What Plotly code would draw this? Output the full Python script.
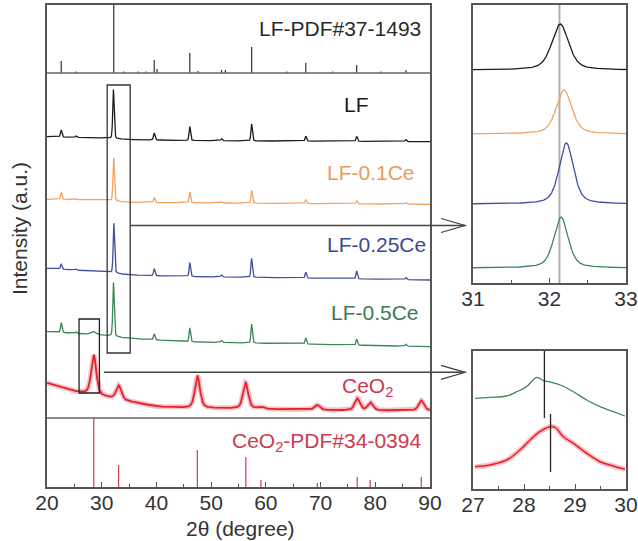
import numpy as np
import plotly.graph_objects as go

W, H = 638, 541

# ---------------- data ----------------
# LF reference pattern PDF#37-1493 : 2theta and stick height
lf_pdf_pos = [22.6, 25.3, 32.2, 34.0, 36.7, 38.1, 39.6, 40.1, 46.1, 47.6, 51.9, 52.6,
              57.4, 63.8, 67.3, 72.2, 76.6, 81.0, 85.6]
lf_pdf_int = [12, 1.5, 68, 1.5, 1.5, 1.5, 13, 4, 20, 2, 3, 3, 26, 1.5, 10, 1.5, 8, 1.5, 3]

# CeO2 reference pattern PDF#34-0394
ceo2_pdf_pos = [28.55, 33.08, 47.48, 56.34, 59.09, 69.4, 76.7, 79.07, 88.41]
ceo2_pdf_int = [69, 22, 37, 30, 7, 4, 10, 7, 10]

# measured perovskite reflections (2theta) and heights for each sample
lf_peak_pos = [22.6, 25.3, 32.14, 39.6, 46.1, 51.9, 57.4, 67.3, 76.6, 85.6]
lf01_peak_pos = [22.6, 25.3, 32.19, 39.6, 46.1, 51.9, 57.4, 67.3, 76.6, 85.6]
lf025_peak_pos = [22.6, 25.3, 32.22, 39.6, 46.1, 51.9, 57.4, 67.3, 76.6, 85.6]
lf05_peak_pos = [22.6, 25.3, 28.5, 32.15, 39.6, 46.1, 51.9, 57.4, 67.3, 76.6, 85.6]
lf_int = [7, 1.5, 49, 7, 14, 2, 17, 5, 5, 2]
lf01_int = [7, 1, 43, 5, 11, 1.5, 13, 4, 3, 1.5]
lf025_int = [5, 1, 50, 7, 14, 2, 19, 6, 8, 2]
lf05_int = [10, 1.5, 3, 54, 6, 14, 2, 19, 6, 6, 2]
lf05_fwhm = [0.3, 0.3, 1.0, 0.3, 0.3, 0.3, 0.3, 0.3, 0.3, 0.3, 0.3]

# CeO2 measured reflections
ceo2_peak_pos = [28.55, 33.1, 47.5, 56.3, 59.1, 69.4, 76.7, 79.1, 88.4]
ceo2_int = [40, 14, 32, 26, 2, 5, 12, 8, 10]

# background levels (stack units) at anchor angles
bg_x = [20, 30, 35, 45, 60, 90]
lf_bg = [350.3, 349, 347.5, 346.5, 346, 345.3]
lf01_bg = [287.7, 287, 284.7, 284.2, 283.7, 282.7]
lf025_bg = [218.7, 215.3, 212, 210.5, 209.5, 207]
lf05_bg = [155.3, 152, 148.7, 145.3, 143.7, 140.3]
ceo2_bg_x = [20, 25, 30, 35, 40, 45, 60, 75, 90]
ceo2_bg = [104, 95.5, 90.5, 85.5, 80.5, 79, 78, 76.5, 76.5]

# zoom 31-33 deg : peak position, height, FWHM, baseline
zoom32_pos = [32.14, 32.19, 32.22, 32.15]
zoom32_int = [46, 44, 61, 51]
zoom32_fwhm = [0.26, 0.24, 0.22, 0.22]
zoom32_base = [213, 149, 79, 15]
zoom32_ref = 32.13

# zoom 27-30 deg : read curve points
zoom28_x = [27.04, 27.33, 27.66, 27.86, 28.05, 28.25, 28.38, 28.51, 28.71, 28.97, 29.23, 29.49, 29.75, 29.98]
lf05_zoom28 = [90.7, 91.7, 93.0, 97.3, 102.3, 111.7, 108.3, 107.0, 104.0, 97.3, 89.0, 82.3, 77.3, 73.0]
ceo2_zoom28_x = [27.04, 27.33, 27.66, 27.92, 28.12, 28.31, 28.51, 28.61, 28.77, 28.97, 29.23, 29.49, 29.75, 29.98]
ceo2_zoom28 = [22.3, 24.0, 29.0, 39.0, 49.0, 57.3, 62.3, 61.7, 52.3, 45.7, 35.7, 27.3, 23.0, 19.7]
zoom28_refs = [28.40, 28.52]

labels = ["LF-PDF#37-1493", "LF", "LF-0.1Ce", "LF-0.25Ce", "LF-0.5Ce",
          "CeO<sub>2</sub>", "CeO<sub>2</sub>-PDF#34-0394"]

# ---------------- styling ----------------
FONT = "Liberation Sans"
C_BLACK = "#1c1c1c"
C_ORANGE = "#f3a461"
C_BLUE = "#3e4f9c"
C_GREEN = "#3b8756"
C_RED = "#e3222f"
C_FRAME = "#555555"

def pv(x, x0, h, fwhm, eta):
    hw = fwhm / 2.0
    d = (x - x0) / hw
    return h * (eta / (1 + d ** 2) + (1 - eta) * np.exp(-np.log(2) * d ** 2))

def pattern(x, pos, ints, fwhm, eta=0.3):
    y = np.zeros_like(x)
    if np.isscalar(fwhm):
        fwhm = [fwhm] * len(pos)
    for p, h, w in zip(pos, ints, fwhm):
        y += pv(x, p, h, w, eta)
    return y

def sticks(pos, ints, base):
    xs, ys = [], []
    for p, h in zip(pos, ints):
        xs += [p, p, None]
        ys += [base, base + h, None]
    return xs, ys

fig = go.Figure()
x = np.arange(20, 90.0001, 0.01)

# LF reference sticks (baseline at level 414)
sx, sy = sticks(lf_pdf_pos, lf_pdf_int, 414)
fig.add_trace(go.Scatter(x=sx, y=sy, mode="lines", line=dict(color="#333", width=1.2),
                         xaxis="x", yaxis="y", hoverinfo="skip"))
# CeO2 reference sticks (from bottom)
sx, sy = sticks(ceo2_pdf_pos, ceo2_pdf_int, 0)
fig.add_trace(go.Scatter(x=sx, y=sy, mode="lines", line=dict(color="#c8404a", width=1.2),
                         xaxis="x", yaxis="y", hoverinfo="skip"))

series = [
    (lf_peak_pos, lf_int, 0.3, lf_bg, C_BLACK),
    (lf01_peak_pos, lf01_int, 0.3, lf01_bg, C_ORANGE),
    (lf025_peak_pos, lf025_int, 0.3, lf025_bg, C_BLUE),
    (lf05_peak_pos, lf05_int, lf05_fwhm, lf05_bg, C_GREEN),
]
for pos, ints, fw, bg, col in series:
    y = np.interp(x, bg_x, bg) + pattern(x, pos, ints, fw)
    fig.add_trace(go.Scatter(x=x, y=y, mode="lines", line=dict(color=col, width=1.3),
                             xaxis="x", yaxis="y", hoverinfo="skip"))

yc = np.interp(x, ceo2_bg_x, ceo2_bg) + pattern(x, ceo2_peak_pos, ceo2_int, 1.1, eta=0.5)
fig.add_trace(go.Scatter(x=x, y=yc, mode="lines", line=dict(color="rgba(235,40,55,0.3)", width=5),
                         xaxis="x", yaxis="y", hoverinfo="skip"))
fig.add_trace(go.Scatter(x=x, y=yc, mode="lines", line=dict(color=C_RED, width=1.8),
                         xaxis="x", yaxis="y", hoverinfo="skip"))

# zoom 31-33
xz = np.arange(31, 33.0001, 0.005)
for p, h, w, b, col in zip(zoom32_pos, zoom32_int, zoom32_fwhm, zoom32_base,
                           [C_BLACK, C_ORANGE, C_BLUE, C_GREEN]):
    fig.add_trace(go.Scatter(x=xz, y=b + pv(xz, p, h, w, 0.5), mode="lines",
                             line=dict(color=col, width=1.3), xaxis="x2", yaxis="y2",
                             hoverinfo="skip"))

# zoom 27-30
fig.add_trace(go.Scatter(x=zoom28_x, y=lf05_zoom28, mode="lines", line=dict(color=C_GREEN, width=1.3, shape="spline"),
                         xaxis="x3", yaxis="y3", hoverinfo="skip"))
fig.add_trace(go.Scatter(x=ceo2_zoom28_x, y=ceo2_zoom28, mode="lines",
                         line=dict(color="rgba(235,40,55,0.3)", width=5, shape="spline"),
                         xaxis="x3", yaxis="y3", hoverinfo="skip"))
fig.add_trace(go.Scatter(x=ceo2_zoom28_x, y=ceo2_zoom28, mode="lines", line=dict(color=C_RED, width=1.5, shape="spline"),
                         xaxis="x3", yaxis="y3", hoverinfo="skip"))

def px(v):
    return v / W

def py(v):
    return 1 - v / H

shapes = []
# divider lines in main panel
for lvl in [414, 69]:
    shapes.append(dict(type="line", xref="x", yref="y", x0=20, x1=90, y0=lvl, y1=lvl,
                       line=dict(color="#666", width=1.5)))
# boxes
shapes.append(dict(type="rect", xref="x", yref="y", x0=31.0, x1=35.2, y0=134, y1=402,
                   line=dict(color="#333", width=1.3)))
shapes.append(dict(type="rect", xref="x", yref="y", x0=25.86, x1=29.58, y0=94, y1=168,
                   line=dict(color="#222", width=1.3)))
# reference lines in zooms
shapes.append(dict(type="line", xref="x2", yref="y2", x0=zoom32_ref, x1=zoom32_ref, y0=0, y1=278,
                   line=dict(color="#b0b0b0", width=2), layer="below"))
shapes.append(dict(type="line", xref="x3", yref="y3", x0=zoom28_refs[0], x1=zoom28_refs[0], y0=71, y1=138,
                   line=dict(color="#222", width=1.3)))
shapes.append(dict(type="line", xref="x3", yref="y3", x0=zoom28_refs[1], x1=zoom28_refs[1], y0=17, y1=75,
                   line=dict(color="#222", width=1.3)))
# arrows (paper coords)
for (xs, ys) in [(130, 225.5), (104, 372.3)]:
    tip = 465
    shapes.append(dict(type="path", xref="paper", yref="paper",
                       path=f"M {px(xs)} {py(ys)} L {px(tip)} {py(ys)}",
                       line=dict(color="#444", width=1.5)))
    shapes.append(dict(type="path", xref="paper", yref="paper",
                       path=f"M {px(441)} {py(ys - 7)} L {px(tip)} {py(ys)} L {px(441)} {py(ys + 7)}",
                       line=dict(color="#444", width=1.3)))

ann = []
lab_x = [88.67, 79.2, 87.6, 89.6, 88.35, 78.6, 88.67]
lab_y = [459, 383, 315, 243, 175, 100, 45]
lab_col = ["#2a2a2a", "#1a1a1a", "#e99b5a", "#3a4a92", "#3b7a52", "#cc3a50", "#cc3a50"]
lab_anchor = ["right", "right", "right", "right", "right", "center", "right"]
for t, lx, ly, c, a in zip(labels, lab_x, lab_y, lab_col, lab_anchor):
    ann.append(dict(text=t, x=lx, y=ly, xref="x", yref="y", xanchor=a, yanchor="middle",
                    showarrow=False, font=dict(family=FONT, size=21, color=c)))
ann.append(dict(text="2θ (degree)", x=px(241), y=py(528), xref="paper", yref="paper",
                xanchor="center", yanchor="middle", showarrow=False,
                font=dict(family=FONT, size=21, color="#333")))
ann.append(dict(text="Intensity (a.u.)", x=px(19), y=py(229), xref="paper", yref="paper",
                xanchor="center", yanchor="middle", showarrow=False, textangle=-90,
                font=dict(family=FONT, size=21, color="#333")))

axis_common = dict(showline=True, mirror=True, linecolor=C_FRAME, linewidth=1.5,
                   showgrid=False, zeroline=False, automargin=False)
xtick = dict(ticks="inside", ticklen=5, tickcolor=C_FRAME, tickwidth=1.3,
             ticklabelstandoff=-4,
             tickfont=dict(family=FONT, size=21, color="#333"))
yhide = dict(showticklabels=False, ticks="")

fig.update_layout(
    template="none",
    width=W, height=H, margin=dict(l=0, r=0, t=0, b=0, autoexpand=False),
    paper_bgcolor="white", plot_bgcolor="white", showlegend=False,
    xaxis=dict(domain=[px(47), px(430)], range=[20, 90], tick0=20, dtick=10, anchor="y",
               minor=dict(ticks="inside", ticklen=3, dtick=5, tickcolor=C_FRAME),
               **axis_common, **xtick),
    yaxis=dict(domain=[py(487), py(5)], range=[0, 482], anchor="x", **axis_common, **yhide),
    xaxis2=dict(domain=[px(473), px(626)], range=[31, 33], tick0=31, dtick=1, anchor="y2",
                minor=dict(ticks="inside", ticklen=3, dtick=0.5, tickcolor=C_FRAME),
                **axis_common, **xtick),
    yaxis2=dict(domain=[py(283), py(5)], range=[0, 278], anchor="x2", **axis_common, **yhide),
    xaxis3=dict(domain=[px(473), px(626)], range=[27, 30], tick0=27, dtick=1, anchor="y3",
                minor=dict(ticks="inside", ticklen=3, dtick=0.5, tickcolor=C_FRAME),
                **axis_common, **xtick),
    yaxis3=dict(domain=[py(489), py(351)], range=[0, 138], anchor="x3", **axis_common, **yhide),
    shapes=shapes, annotations=ann,
)

fig.write_html("out.html", config={"displayModeBar": False},
               post_script="document.body.style.margin='0px';document.body.style.overflow='hidden';")
